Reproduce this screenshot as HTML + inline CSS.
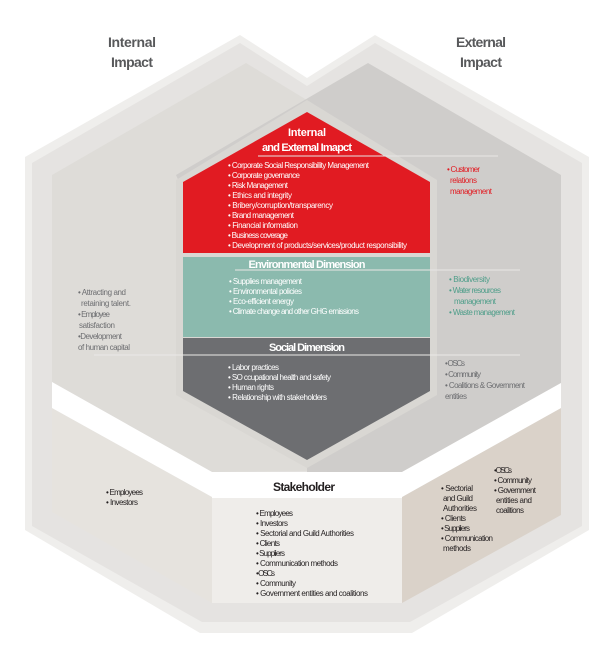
<!DOCTYPE html>
<html><head><meta charset="utf-8"><style>
html,body{margin:0;padding:0;background:#fff;}
svg{display:block;font-family:"Liberation Sans",sans-serif;}
.t{font-size:8px;}
</style></head><body>
<svg width="612" height="645" viewBox="0 0 612 645" xmlns="http://www.w3.org/2000/svg">
<!-- outer ring -->
<polygon points="25,157 240,35 307,78 375,35 589,157 589,530 412,633 200,633 25,530" fill="#efeeec"/>
<polygon points="32,163 240,43 307,86 375,43 582,163 582,526 410,622 202,622 32,526" fill="#e5e3e1"/>
<!-- left internal hex -->
<polygon points="52,175 246,63 430,175 430,470 212,472 52,382" fill="#dedcd8"/>
<!-- right external hex -->
<polygon points="176,175 368,63 561,175 561,383 402,472 307,472 307,460" fill="#cfcdcb"/>
<!-- lower regions -->
<polygon points="52,408 212,497 212,603 52,512" fill="#e6e3de"/>
<polygon points="212,497 402,497 402,603 212,603" fill="#efedea"/>
<polygon points="561,408 402,497 402,603 561,515" fill="#dad2c9"/>
<!-- white band -->
<polygon points="52,382 212,472 212,497 52,408" fill="#ffffff"/>
<polygon points="561,383 402,472 402,497 561,408" fill="#ffffff"/>
<rect x="212" y="472" width="190" height="26" fill="#ffffff"/>
<!-- house inner frame -->
<polygon points="307,100 176,180 176,395 307,468 437,395 437,180" fill="#d9d7d3"/>
<!-- red -->
<polygon points="307,112 183,182 183,253 430,253 430,182" fill="#e11b22"/>
<rect x="183" y="257" width="247" height="80" fill="#8bbaae"/>
<polygon points="183,338 430,338 430,391 307,460 183,391" fill="#6d6e71"/>
<!-- thin lines -->
<line x1="258" y1="156" x2="498" y2="156" stroke="#e8e6e4" stroke-width="1"/>
<line x1="235" y1="270" x2="520" y2="270" stroke="#e8e6e4" stroke-width="1"/>
<line x1="94" y1="355" x2="520" y2="355" stroke="#ebe9e7" stroke-width="1"/>
<!-- headings -->
<g font-weight="bold" fill="#58595b" font-size="14">
<text x="132" y="47" text-anchor="middle" textLength="48">Internal</text>
<text x="132" y="67" text-anchor="middle" textLength="42">Impact</text>
<text x="481" y="47" text-anchor="middle" textLength="50">External</text>
<text x="481" y="67" text-anchor="middle" textLength="42">Impact</text>
</g>
<g font-weight="bold" fill="#fff" font-size="11" text-anchor="middle">
<text x="307" y="136" textLength="38">Internal</text>
<text x="307" y="151" textLength="90">and External Imapct</text>
<text x="307" y="268" textLength="117">Environmental Dimension</text>
<text x="307" y="351" textLength="76">Social Dimension</text>
</g>
<text x="304" y="491" text-anchor="middle" font-weight="bold" font-size="12" fill="#231f20" textLength="62">Stakeholder</text>
<!-- red list -->
<g class="t" fill="#fff">
<text x="228" y="168" textLength="141">• Corporate Social Responsibility Management</text>
<text x="228" y="178" textLength="72">• Corporate governance</text>
<text x="228" y="188" textLength="60">• Risk Management</text>
<text x="228" y="198" textLength="64">• Ethics and integrity</text>
<text x="228" y="208" textLength="105">• Bribery/corruption/transparency</text>
<text x="228" y="218" textLength="66">• Brand management</text>
<text x="228" y="228" textLength="70">• Financial information</text>
<text x="228" y="238" textLength="60">• Business coverage</text>
<text x="228" y="248" textLength="179">• Development of products/services/product responsibility</text>
</g>
<g class="t" fill="#fff">
<text x="229" y="284" textLength="73">• Supplies management</text>
<text x="229" y="294" textLength="73">• Environmental policies</text>
<text x="229" y="304" textLength="65">• Eco-efficient energy</text>
<text x="229" y="314" textLength="130">• Climate change and other GHG emissions</text>
</g>
<g class="t" fill="#fff">
<text x="228" y="370" textLength="51">• Labor practices</text>
<text x="228" y="380" textLength="103">• SO ccupational health and safety</text>
<text x="228" y="390" textLength="46">• Human rights</text>
<text x="228" y="400" textLength="99">• Relationship with stakeholders</text>
</g>
<g class="t" fill="#e11b22">
<text x="447" y="172" textLength="33">• Customer</text>
<text x="450" y="183" textLength="27">relations</text>
<text x="450" y="194" textLength="42">management</text>
</g>
<g class="t" fill="#4f9e8a">
<text x="449" y="282" textLength="41">• Biodiversity</text>
<text x="449" y="293" textLength="52">• Water resources</text>
<text x="454" y="304" textLength="42">management</text>
<text x="449" y="315" textLength="66">• Waste management</text>
</g>
<g class="t" fill="#6d6e71">
<text x="78" y="295" textLength="48">• Attracting and</text>
<text x="81" y="306" textLength="50">retaining talent.</text>
<text x="78" y="317" textLength="32">• Employee</text>
<text x="79" y="328" textLength="36">satisfaction</text>
<text x="78" y="339" textLength="44">•Development</text>
<text x="78" y="350" textLength="52">of human capital</text>
</g>
<g class="t" fill="#6d6e71">
<text x="445" y="366" textLength="20">• OSCs</text>
<text x="445" y="377" textLength="36">• Community</text>
<text x="445" y="388" textLength="80">• Coalitions &amp; Government</text>
<text x="445" y="399" textLength="22">entities</text>
</g>
<g class="t" fill="#231f20">
<text x="106" y="495" textLength="37">• Employees</text>
<text x="106" y="505" textLength="32">• Investors</text>
<text x="256" y="516" textLength="37">• Employees</text>
<text x="256" y="526" textLength="32">• Investors</text>
<text x="256" y="536" textLength="98">• Sectorial and Guild Authorities</text>
<text x="256" y="546" textLength="24">• Clients</text>
<text x="256" y="556" textLength="29">• Suppliers</text>
<text x="256" y="566" textLength="82">• Communication methods</text>
<text x="256" y="576" textLength="19">• OSCs</text>
<text x="256" y="586" textLength="40">• Community</text>
<text x="256" y="596" textLength="112">• Government entities and coalitions</text>
</g>
<g class="t" fill="#231f20">
<text x="441" y="491" textLength="32">• Sectorial</text>
<text x="443" y="501" textLength="30">and Guild</text>
<text x="443" y="511" textLength="34">Authorities</text>
<text x="441" y="521" textLength="25">• Clients</text>
<text x="441" y="531" textLength="29">• Suppliers</text>
<text x="441" y="541" textLength="52">• Communication</text>
<text x="443" y="551" textLength="28">methods</text>
<text x="494" y="473" textLength="18">• OSCs</text>
<text x="494" y="483" textLength="38">• Community</text>
<text x="494" y="493" textLength="42">• Government</text>
<text x="496" y="503" textLength="36">entities and</text>
<text x="496" y="513" textLength="28">coalitions</text>
</g>
</svg>
</body></html>
